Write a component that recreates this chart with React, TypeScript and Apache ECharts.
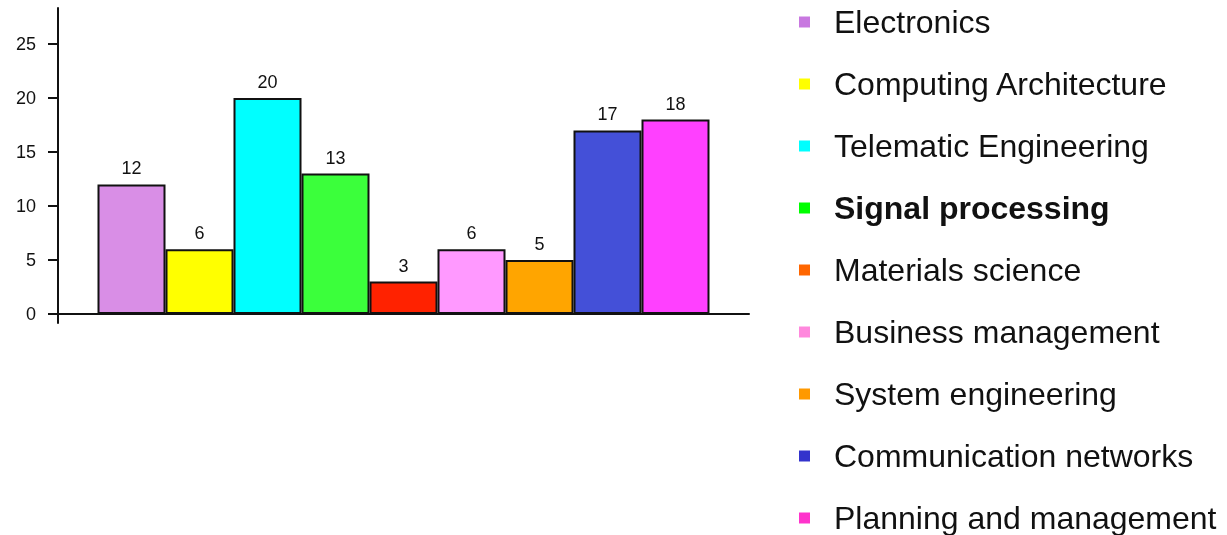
import React, { useEffect, useRef } from "react";
import * as echarts from "echarts";

// Departments, counts and colours
const departments = [
  "Electronics",
  "Computing Architecture",
  "Telematic Engineering",
  "Signal processing",
  "Materials science",
  "Business management",
  "System engineering",
  "Communication networks",
  "Planning and management",
];
const counts = [12, 6, 20, 13, 3, 6, 5, 17, 18];
const barColors = [
  "#D98EE6",
  "#FFFF00",
  "#00FFFF",
  "#3BFF3B",
  "#FF2200",
  "#FF99FF",
  "#FFA500",
  "#4450D8",
  "#FF40FF",
];
const legendColors = [
  "#C878E0",
  "#FFFF00",
  "#00FFFF",
  "#00FF00",
  "#FF6600",
  "#FF88DD",
  "#FF9900",
  "#3333CC",
  "#FF33CC",
];
const yTicks = [0, 5, 10, 15, 20, 25];
const boldLegend = "Signal processing";

const FONT = "'Liberation Sans', Arial, Helvetica, sans-serif";

export default function App() {
  const ref = useRef<HTMLDivElement>(null);

  useEffect(() => {
    if (!ref.current) return;
    const chart = echarts.init(ref.current, undefined, { renderer: "svg" });

    const series = departments.map((name, i) => ({
      name,
      type: "bar",
      data: [counts[i]],
      barWidth: 68,
      barGap: "0%",
      itemStyle: {
        color: barColors[i],
        borderColor: "#111",
        borderWidth: 2,
      },
      label: {
        show: true,
        position: "top",
        distance: 7,
        color: "#111",
        fontSize: 18,
        fontFamily: FONT,
      },
    }));

    chart.setOption({
      animation: false,
      textStyle: { fontFamily: FONT },
      grid: { left: 58, right: 478, top: 8, bottom: 212 },
      xAxis: {
        type: "category",
        data: [""],
        axisLine: { show: true, lineStyle: { color: "#111", width: 2 } },
        axisTick: { show: false },
        axisLabel: { show: false },
        splitLine: { show: false },
      },
      yAxis: {
        type: "value",
        min: -0.833,
        max: 28.33,
        axisLine: { show: true, lineStyle: { color: "#111", width: 2 } },
        axisTick: {
          show: true,
          length: 10,
          customValues: yTicks,
          lineStyle: { color: "#111", width: 2 },
        },
        axisLabel: {
          customValues: yTicks,
          margin: 22,
          color: "#111",
          fontSize: 18,
          fontFamily: FONT,
        },
        splitLine: { show: false },
      },
      legend: {
        orient: "vertical",
        left: 799,
        top: 6,
        height: 700,
        padding: 0,
        icon: "rect",
        itemWidth: 11,
        itemHeight: 11,
        itemGap: 30,
        selectedMode: false,
        textStyle: {
          fontSize: 32,
          lineHeight: 30,
          color: "#111",
          fontFamily: FONT,
          padding: [0, 0, 0, 19],
        },
        data: departments.map((name, i) => ({
          name,
          itemStyle: { color: legendColors[i], borderWidth: 0 },
          textStyle: name === boldLegend ? { fontWeight: "bold" } : {},
        })),
      },
      series,
    });

    return () => chart.dispose();
  }, []);

  return (
    <div
      ref={ref}
      style={{ position: "fixed", left: 0, top: 0, width: 1227, height: 535 }}
    />
  );
}
